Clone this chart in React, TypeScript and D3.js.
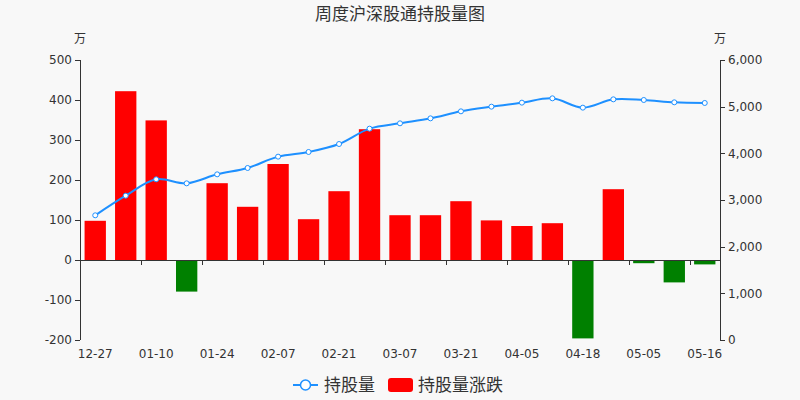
import React from "react";
import * as d3 from "d3";

const categories = ["12-27","01-03","01-10","01-17","01-24","01-31","02-07","02-14","02-21","02-28","03-07","03-14","03-21","03-28","04-05","04-11","04-18","04-25","05-05","05-09","05-16"];
const holdings = [2672,3093,3443,3357,3550,3686,3929,4029,4200,4529,4643,4750,4900,5000,5086,5179,4979,5157,5143,5093,5079];
const changes = [98,422,349,-79,192,133,240,102,172,327,112,112,147,99,85,92,-196,177,-8,-56,-11];
const leftTicks = [-200,-100,0,100,200,300,400,500];
const rightTicks = [0,1000,2000,3000,4000,5000,6000];
const title = "周度沪深股通持股量图";
const unit = "万";
const legendLine = "持股量";
const legendBar = "持股量涨跌";

const W = 800, H = 400;
const M = { left: 80, right: 80, top: 60, bottom: 60 };
const FONT = "'DejaVu Sans', 'Noto Sans CJK SC', sans-serif";

export default function App() {
  const x = d3.scaleBand<string>().domain(categories).range([M.left, W - M.right]).paddingInner(0).paddingOuter(0);
  const yL = d3.scaleLinear().domain([-200, 500]).range([H - M.bottom, M.top]);
  const yR = d3.scaleLinear().domain([0, 6000]).range([H - M.bottom, M.top]);
  const bw = x.bandwidth();
  const barW = bw * 0.7;
  const fmt = d3.format(",");
  const line = d3.line<number>()
    .x((_, i) => (x(categories[i]) as number) + bw / 2)
    .y((d) => yR(d))
    .curve(d3.curveCatmullRom.alpha(0.5));
  const zeroY = yL(0);
  const tickIdx = categories.map((_, i) => i).filter((i) => i % 2 === 0);
  return (
    <div style={{ position: "fixed", left: 0, top: 0, width: W, height: H }}>
      <svg width={W} height={H} style={{ display: "block", background: "#f8f8f8" }} fontFamily={FONT}>
        <text x={W / 2} y={20} textAnchor="middle" fontSize={17} fill="#333">{title}</text>
        <text x={M.left} y={43} textAnchor="middle" fontSize={12} fill="#333">{unit}</text>
        <text x={W - M.right} y={43} textAnchor="middle" fontSize={12} fill="#333">{unit}</text>
        {/* bars */}
        {changes.map((v, i) => {
          const cx = (x(categories[i]) as number) + bw / 2;
          const y0 = yL(Math.max(0, v));
          const y1 = yL(Math.min(0, v));
          return <rect key={i} x={cx - barW / 2} y={y0} width={barW} height={Math.max(0, y1 - y0)} fill={v >= 0 ? "#ff0000" : "#008000"} />;
        })}
        {/* left axis */}
        <line x1={M.left + 0.5} x2={M.left + 0.5} y1={M.top} y2={H - M.bottom} stroke="#333" />
        {leftTicks.map((t) => (
          <g key={t}>
            <line x1={M.left - 5} x2={M.left} y1={Math.round(yL(t)) + 0.5} y2={Math.round(yL(t)) + 0.5} stroke="#333" />
            <text x={M.left - 8} y={yL(t)} dy="0.35em" textAnchor="end" fontSize={12} fill="#333">{t}</text>
          </g>
        ))}
        {/* right axis */}
        <line x1={W - M.right + 0.5} x2={W - M.right + 0.5} y1={M.top} y2={H - M.bottom} stroke="#333" />
        {rightTicks.map((t) => (
          <g key={t}>
            <line x1={W - M.right} x2={W - M.right + 5} y1={Math.round(yR(t)) + 0.5} y2={Math.round(yR(t)) + 0.5} stroke="#333" />
            <text x={W - M.right + 8} y={yR(t)} dy="0.35em" textAnchor="start" fontSize={12} fill="#333">{fmt(t)}</text>
          </g>
        ))}
        {/* x axis */}
        <line x1={M.left} x2={W - M.right} y1={Math.round(zeroY) + 0.5} y2={Math.round(zeroY) + 0.5} stroke="#333" />
        {tickIdx.map((i) => {
          const bx = Math.round((x(categories[i]) as number)) + 0.5;
          return <g key={i}>
            {i > 0 && <line x1={bx} x2={bx} y1={zeroY} y2={zeroY + 5} stroke="#333" />}
            <text x={(x(categories[i]) as number) + bw / 2} y={H - M.bottom + 18} textAnchor="middle" fontSize={12} fill="#333">{categories[i]}</text>
          </g>;
        })}
        {/* line */}
        <path d={line(holdings) || ""} fill="none" stroke="#1e90ff" strokeWidth={2} />
        {holdings.map((v, i) => (
          <circle key={i} cx={(x(categories[i]) as number) + bw / 2} cy={yR(v)} r={2.5} fill="#fff" stroke="#1e90ff" strokeWidth={1} />
        ))}
        {/* legend */}
        <g>
          <line x1={293} x2={318} y1={385} y2={385} stroke="#1e90ff" strokeWidth={2} />
          <circle cx={305.5} cy={385} r={5} fill="#fff" stroke="#1e90ff" strokeWidth={1.5} />
          <text x={324} y={385} dy="0.35em" fontSize={17} fill="#333">{legendLine}</text>
          <rect x={388} y={378} width={25} height={14} rx={3} fill="#ff0000" />
          <text x={418} y={385} dy="0.35em" fontSize={17} fill="#333">{legendBar}</text>
        </g>
      </svg>
    </div>
  );
}
